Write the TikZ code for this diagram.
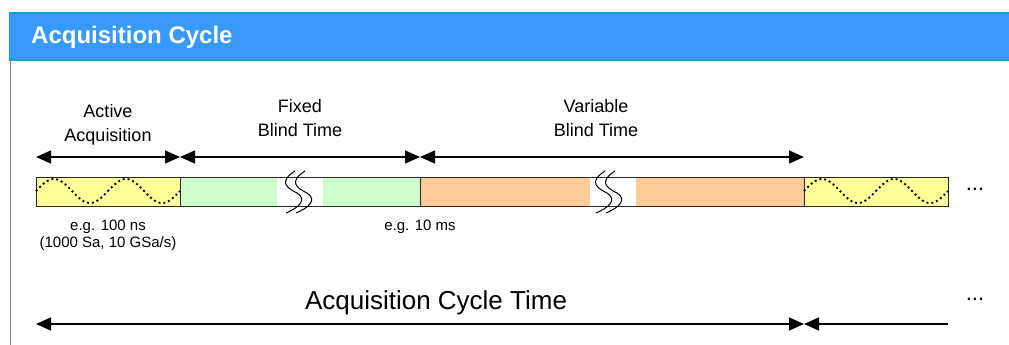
\documentclass[tikz,border=0pt]{standalone}
\usepackage{fontspec}
\setmainfont{Liberation Sans}
\usetikzlibrary{arrows.meta}
\definecolor{hdrfill}{HTML}{3899FF}
\definecolor{hdrline}{HTML}{00A0D8}
\definecolor{activeY}{HTML}{FFFF99}
\definecolor{fixedG}{HTML}{CCFFCC}
\definecolor{varO}{HTML}{FFCC99}
\definecolor{sideline}{HTML}{808080}
\tikzset{
  seg/.style={draw=black!85, line width=0.9pt},
  span/.style={line width=1.4pt, {Triangle[length=15pt,width=13pt]}-{Triangle[length=15pt,width=13pt]}},
  lspan/.style={line width=1.4pt, {Triangle[length=15pt,width=13pt]}-},
  lbl/.style={font=\fontsize{18}{24}\selectfont, align=center, inner sep=0pt},
  small/.style={font=\fontsize{15}{17}\selectfont, align=center, inner sep=0pt},
  breakmark/.style={line width=1pt},
  wave/.style={line width=1.9pt, dash pattern=on 1.9pt off 3pt},
}
\begin{document}
\begin{tikzpicture}[x=1pt,y=-1pt]
\useasboundingbox (0,0) rectangle (1009,345);
% header
\fill[hdrfill] (9,12) rectangle (1009,61);
\draw[hdrline, line width=2pt] (9,13) -- (1009,13);
\draw[hdrline, line width=2pt] (9,60) -- (1009,60);
\draw[hdrline, line width=1.5pt] (9.7,12) -- (9.7,61);
\node[anchor=west, text=white, font=\fontsize{24}{26}\selectfont\bfseries, inner sep=0pt] (title) at (31,37) {Acquisition Cycle};
\draw[sideline, line width=1.5pt] (10.5,61) -- (10.5,345);

% bar coordinates
\coordinate (a0) at (36,157);
\coordinate (a1) at (180,157);
\coordinate (a2) at (420,157);
\coordinate (a3) at (804,157);

% segments
\fill[activeY] (36,177) rectangle (180,206);
\fill[fixedG] (180,177) rectangle (420,206);
\fill[white] (277,177) rectangle (323,206);
\fill[varO] (420,177) rectangle (804,206);
\fill[white] (590,177) rectangle (636,206);
\fill[activeY] (804,177) rectangle (948,206);
\draw[seg] (36,177) rectangle (948,206);
\draw[seg] (180,177) -- (180,206);
\draw[seg] (420,177) -- (420,206);
\draw[seg] (804,177) -- (804,206);

% sine waves
\draw[wave] plot[domain=0:144, samples=80, smooth] ({36+\x},{191-12*sin(5*\x)});
\draw[wave] plot[domain=0:144, samples=80, smooth] ({804+\x},{191-12*sin(5*\x)});

% break marks
\foreach \cx in {287,297,597,607}{
  \draw[breakmark] ({\cx+8},171) .. controls ({\cx-9},182) and ({\cx},188) .. ({\cx+10},193)
                   .. controls ({\cx+21},200) and ({\cx+11},208) .. ({\cx-1},213);
}

% span arrows
\node[lbl] (act) at (108,125) {Active\\Acquisition};
\node[lbl] (fix) at (300,118) {Fixed\\Blind Time};
\node[lbl] (var) at (596,118) {Variable\\Blind Time};
\draw[span] (a0) -- (a1);
\draw[span] (a1) -- (a2);
\draw[span] (a2) -- (a3);

\node[small] (eg1) at (108,235) {e.g. 100 ns\\(1000 Sa, 10 GSa/s)};
\node[small] (eg2) at (420,227) {e.g. 10 ms};
\node[font=\fontsize{22}{22}\selectfont, inner sep=0pt] (dots1) at (975,189) {...};

% cycle time
\coordinate (c0) at (36,324);
\coordinate (c1) at (804,324);
\coordinate (c2) at (948,324);
\node[font=\fontsize{26}{28}\selectfont, inner sep=0pt] (cyc) at (436,303) {Acquisition Cycle Time};
\draw[span] (c0) -- (c1);
\draw[lspan] (c1) -- (c2);
\node[font=\fontsize{22}{22}\selectfont, inner sep=0pt] (dots2) at (975,299) {...};
\end{tikzpicture}
\end{document}
